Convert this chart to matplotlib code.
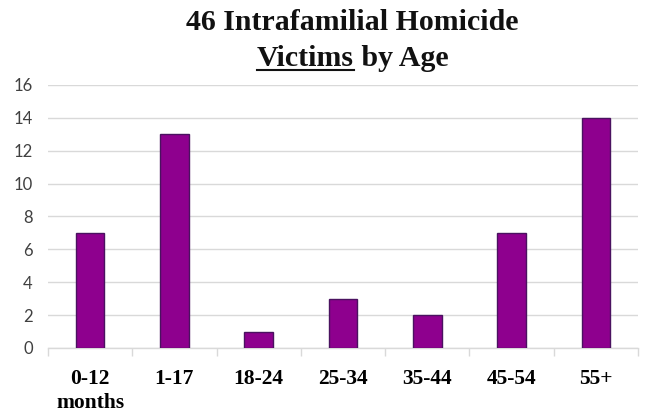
import numpy as np
import matplotlib
matplotlib.use("Agg")
from matplotlib import pyplot as plt

# data
age_groups = ["0-12\nmonths", "1-17", "18-24", "25-34", "35-44", "45-54", "55+"]
victims = [7, 13, 1, 3, 2, 7, 14]
y_ticks = [0, 2, 4, 6, 8, 10, 12, 14, 16]

fig = plt.figure(figsize=(6.46, 4.16), dpi=100)
ax = fig.add_axes([0.0743, 0.1635, 0.9133, 0.6322])

x = np.arange(len(victims))
ax.bar(x, victims, width=0.34, color="#8E008E", edgecolor="#4A1260", linewidth=1.0, zorder=3)

ax.set_xlim(-0.5, len(victims) - 0.5)
ax.set_ylim(0, 16)
ax.set_yticks(y_ticks)
ax.yaxis.grid(True, color="#D9D9D9", linewidth=1.0, zorder=0)
ax.tick_params(axis="y", length=0, pad=11, labelsize=12, labelcolor="#404040")
for lab in ax.get_yticklabels():
    lab.set_family("Lato")

ax.set_xticks(x)
ax.set_xticklabels(age_groups, family="Liberation Serif", fontweight="bold", fontsize=15.5,
                   va="top", linespacing=1.3)
ax.tick_params(axis="x", length=0, pad=15)
ax.set_xticks(np.arange(-0.5, len(victims)), minor=True)
ax.tick_params(axis="x", which="minor", length=6, color="#D9D9D9", width=1.0)

for s in ["top", "right", "left"]:
    ax.spines[s].set_visible(False)
ax.spines["bottom"].set_color("#D9D9D9")
ax.spines["bottom"].set_linewidth(1.0)

# title, second line with underlined "Victims"
tfont = dict(family="Liberation Serif", fontweight="bold", fontsize=21.5, color="#111111")
xc = 0.546
fig.text(xc, 0.945, "46 Intrafamilial Homicide", ha="center", va="center", **tfont)
fig.canvas.draw()
r = fig.canvas.get_renderer()
t1 = fig.text(0, 0.86, "Victims", ha="left", va="center", **tfont)
t2 = fig.text(0, 0.86, " by Age", ha="left", va="center", **tfont)
w1 = t1.get_window_extent(r).width / fig.bbox.width
w2 = t2.get_window_extent(r).width / fig.bbox.width
x0 = xc - (w1 + w2) / 2
t1.set_x(x0)
t2.set_x(x0 + w1)
bb = t1.get_window_extent(r)
yl = (bb.y0 + 1.5) / fig.bbox.height
fig.add_artist(plt.Line2D([x0, x0 + w1], [yl, yl], color="#111111", linewidth=1.5,
                          transform=fig.transFigure))

fig.savefig("out.png", dpi=100)
